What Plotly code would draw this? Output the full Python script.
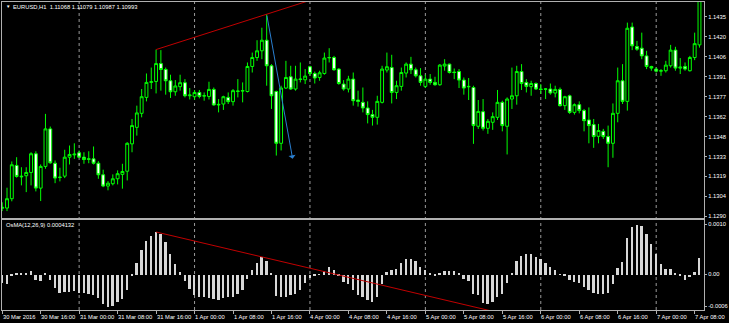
import plotly.graph_objects as go

# ---------------- data ----------------
bar_index = list(range(146))

opens = [1.12958, 1.12960, 1.13028, 1.13270, 1.13192, 1.13195, 1.13219, 1.13355, 1.13105, 1.13263,
         1.13536, 1.13286, 1.13185, 1.13192, 1.13330, 1.13347, 1.13362, 1.13330, 1.13318, 1.13318,
         1.13286, 1.13202, 1.13120, 1.13137, 1.13173, 1.13205, 1.13228, 1.13427, 1.13547, 1.13649,
         1.13765, 1.13874, 1.13881, 1.14011, 1.13968, 1.13886, 1.13806, 1.13843, 1.13872, 1.13777,
         1.13770, 1.13801, 1.13775, 1.13772, 1.13823, 1.13710, 1.13717, 1.13765, 1.13734, 1.13808,
         1.13811, 1.13808, 1.13990, 1.14055, 1.14104, 1.14181, 1.13995, 1.13808, 1.13431, 1.13833,
         1.13915, 1.13826, 1.13895, 1.13893, 1.13988, 1.13939, 1.13910, 1.13939, 1.14053, 1.14055,
         1.13971, 1.13862, 1.13826, 1.13898, 1.13746, 1.13729, 1.13688, 1.13640, 1.13620, 1.13729,
         1.13964, 1.13982, 1.13801, 1.13845, 1.13942, 1.14007, 1.13966, 1.13922, 1.13845, 1.13898,
         1.13874, 1.13857, 1.13993, 1.14007, 1.13949, 1.13953, 1.13891, 1.13845, 1.13837, 1.13555,
         1.13661, 1.13540, 1.13584, 1.13620, 1.13729, 1.13555, 1.13753, 1.13777, 1.13953, 1.13874,
         1.13843, 1.13866, 1.13826, 1.13827, 1.13826, 1.13797, 1.13823, 1.13705, 1.13777, 1.13656,
         1.13712, 1.13669, 1.13601, 1.13567, 1.13482, 1.13518, 1.13480, 1.13431, 1.13649, 1.13886,
         1.13736, 1.14277, 1.14135, 1.14123, 1.14067, 1.13990, 1.13971, 1.13956, 1.13959, 1.13995,
         1.14109, 1.13978, 1.13990, 1.13959, 1.14055, 1.14147]

highs = [1.13002, 1.13108, 1.13299, 1.13330, 1.13257, 1.13257, 1.13366, 1.13373, 1.13277, 1.13645,
         1.13553, 1.13306, 1.13253, 1.13384, 1.13415, 1.13431, 1.13379, 1.13366, 1.13373, 1.13408,
         1.13301, 1.13239, 1.13156, 1.13205, 1.13234, 1.13282, 1.13439, 1.13608, 1.13705, 1.13826,
         1.13939, 1.13982, 1.14113, 1.14109, 1.13982, 1.13930, 1.13891, 1.13930, 1.13898, 1.13833,
         1.13819, 1.13819, 1.13801, 1.13879, 1.13837, 1.13753, 1.13777, 1.13801, 1.13826, 1.13898,
         1.13874, 1.14019, 1.14091, 1.14181, 1.14272, 1.14370, 1.14007, 1.13814, 1.13850, 1.14031,
         1.13995, 1.13995, 1.14019, 1.13971, 1.13995, 1.13953, 1.13959, 1.14091, 1.14123, 1.14067,
         1.13978, 1.13891, 1.13922, 1.13946, 1.13814, 1.13837, 1.13736, 1.13674, 1.13777, 1.13995,
         1.14091, 1.14075, 1.13886, 1.13982, 1.14019, 1.14060, 1.13982, 1.13978, 1.13930, 1.13935,
         1.13915, 1.14007, 1.14043, 1.14011, 1.13975, 1.13971, 1.13910, 1.13906, 1.13850, 1.13746,
         1.13753, 1.13608, 1.13656, 1.13819, 1.13741, 1.13765, 1.13982, 1.13995, 1.14007, 1.13898,
         1.13886, 1.13874, 1.13862, 1.13833, 1.13866, 1.13850, 1.13837, 1.13777, 1.13785, 1.13721,
         1.13736, 1.13681, 1.13692, 1.13608, 1.13572, 1.13536, 1.13560, 1.13721, 1.13982, 1.14007,
         1.14309, 1.14309, 1.14176, 1.14236, 1.14104, 1.13995, 1.13982, 1.13971, 1.14031, 1.14147,
         1.14133, 1.14051, 1.14019, 1.14067, 1.14236, 1.14575]

lows = [1.12938, 1.12938, 1.13009, 1.13181, 1.13125, 1.13076, 1.13125, 1.13081, 1.13011, 1.13246,
        1.13282, 1.13141, 1.13154, 1.13178, 1.13277, 1.13318, 1.13326, 1.13282, 1.13286, 1.13277,
        1.13173, 1.13112, 1.13089, 1.13125, 1.13132, 1.13101, 1.13161, 1.13366, 1.13487, 1.13620,
        1.13736, 1.13826, 1.13794, 1.13814, 1.13785, 1.13761, 1.13777, 1.13814, 1.13765, 1.13750,
        1.13746, 1.13758, 1.13741, 1.13750, 1.13705, 1.13656, 1.13674, 1.13717, 1.13705, 1.13765,
        1.13729, 1.13801, 1.13946, 1.14031, 1.14043, 1.13850, 1.13681, 1.13342, 1.13379, 1.13826,
        1.13819, 1.13814, 1.13874, 1.13862, 1.13922, 1.13866, 1.13886, 1.13930, 1.14019, 1.13959,
        1.13857, 1.13814, 1.13801, 1.13705, 1.13698, 1.13656, 1.13576, 1.13560, 1.13567, 1.13721,
        1.13946, 1.13721, 1.13753, 1.13814, 1.13910, 1.13935, 1.13910, 1.13850, 1.13833, 1.13857,
        1.13850, 1.13850, 1.13959, 1.13939, 1.13898, 1.13833, 1.13785, 1.13746, 1.13427, 1.13536,
        1.13524, 1.13500, 1.13529, 1.13601, 1.13518, 1.13350, 1.13681, 1.13712, 1.13819, 1.13801,
        1.13777, 1.13819, 1.13790, 1.13753, 1.13785, 1.13765, 1.13698, 1.13674, 1.13645, 1.13640,
        1.13649, 1.13518, 1.13431, 1.13398, 1.13431, 1.13463, 1.13257, 1.13326, 1.13584, 1.13717,
        1.13669, 1.14109, 1.14104, 1.14043, 1.13971, 1.13959, 1.13946, 1.13922, 1.13946, 1.13982,
        1.13959, 1.13935, 1.13959, 1.13953, 1.14036, 1.14127]

closes = [1.12965, 1.13028, 1.13275, 1.13190, 1.13188, 1.13219, 1.13355, 1.13105, 1.13263, 1.13536,
          1.13289, 1.13178, 1.13183, 1.13330, 1.13350, 1.13352, 1.13330, 1.13313, 1.13315, 1.13286,
          1.13202, 1.13120, 1.13141, 1.13173, 1.13210, 1.13226, 1.13431, 1.13560, 1.13652, 1.13770,
          1.13874, 1.13879, 1.14011, 1.13968, 1.13886, 1.13806, 1.13848, 1.13872, 1.13777, 1.13782,
          1.13801, 1.13772, 1.13777, 1.13823, 1.13710, 1.13714, 1.13770, 1.13734, 1.13814, 1.13811,
          1.13814, 1.13990, 1.14055, 1.14104, 1.14181, 1.13995, 1.13777, 1.13431, 1.13833, 1.13910,
          1.13826, 1.13898, 1.13898, 1.13920, 1.13939, 1.13906, 1.13944, 1.14051, 1.14055, 1.13966,
          1.13866, 1.13826, 1.13898, 1.13741, 1.13736, 1.13688, 1.13640, 1.13620, 1.13736, 1.13971,
          1.13988, 1.13801, 1.13850, 1.13946, 1.14007, 1.13966, 1.13922, 1.13874, 1.13898, 1.13874,
          1.13857, 1.14000, 1.14007, 1.13946, 1.13946, 1.13891, 1.13833, 1.13843, 1.13560, 1.13663,
          1.13540, 1.13591, 1.13625, 1.13729, 1.13560, 1.13753, 1.13777, 1.13953, 1.13866, 1.13845,
          1.13866, 1.13826, 1.13823, 1.13825, 1.13797, 1.13823, 1.13705, 1.13770, 1.13656, 1.13712,
          1.13669, 1.13596, 1.13560, 1.13480, 1.13524, 1.13480, 1.13431, 1.13649, 1.13886, 1.13736,
          1.14268, 1.14140, 1.14116, 1.14067, 1.13990, 1.13978, 1.13956, 1.13959, 1.14000, 1.14109,
          1.13978, 1.13985, 1.13971, 1.14055, 1.14156, 1.14502]

osma = [-0.000163, -0.000176, -0.000013, 0.000013, 0.000020, 0.000020, 0.000078, -0.000098, -0.000131, 0.000033,
        -0.000098, -0.000255, -0.000359, -0.000340, -0.000340, -0.000327, -0.000359, -0.000359, -0.000373, -0.000405,
        -0.000471, -0.000588, -0.000634, -0.000614, -0.000549, -0.000490, -0.000294, -0.000026, 0.000235, 0.000477,
        0.000660, 0.000752, 0.000837, 0.000791, 0.000641, 0.000412, 0.000203, 0.000052, -0.000131, -0.000288,
        -0.000405, -0.000438, -0.000451, -0.000471, -0.000490, -0.000503, -0.000471, -0.000451, -0.000438, -0.000373,
        -0.000307, -0.000078, 0.000085, 0.000229, 0.000346, 0.000268, 0.000020, -0.000425, -0.000451, -0.000438,
        -0.000405, -0.000373, -0.000294, -0.000163, -0.000065, -0.000013, 0.000007, 0.000065, 0.000150, 0.000085,
        -0.000020, -0.000144, -0.000190, -0.000307, -0.000405, -0.000451, -0.000503, -0.000536, -0.000438, -0.000176,
        0.000046, 0.000085, 0.000118, 0.000229, 0.000314, 0.000314, 0.000268, 0.000150, 0.000085, 0.000039,
        -0.000020, 0.000033, 0.000072, 0.000072, 0.000072, 0.000020, -0.000078, -0.000124, -0.000373, -0.000405,
        -0.000556, -0.000582, -0.000536, -0.000438, -0.000373, -0.000163, 0.000033, 0.000261, 0.000359, 0.000399,
        0.000399, 0.000346, 0.000301, 0.000229, 0.000150, 0.000098, 0.000007, -0.000033, -0.000098, -0.000144,
        -0.000163, -0.000242, -0.000307, -0.000359, -0.000373, -0.000373, -0.000359, -0.000190, 0.000137, 0.000248,
        0.000719, 0.000935, 0.000980, 0.000948, 0.000791, 0.000608, 0.000412, 0.000216, 0.000105, 0.000105,
        0.000020, -0.000033, -0.000111, -0.000046, 0.000052, 0.000330]

price_tick_vals = [1.12900, 1.13045, 1.13190, 1.13335, 1.13480, 1.13625, 1.13770, 1.13915, 1.14060, 1.14205, 1.14350]
price_tick_text = ["1.1290", "1.1304", "1.1319", "1.1333", "1.1348", "1.1362", "1.1377", "1.1391", "1.1406", "1.1420", "1.1435"]

osma_tick_vals = [0.00099, 0.0, -0.00063]
osma_tick_text = ["0.0010", "0.00", "-0.0006"]

time_tick_index = [0, 8, 16, 24, 32, 40, 48, 56, 64, 72, 80, 88, 96, 104, 112, 120, 128, 136, 144]
time_tick_text = ["30 Mar 2016", "30 Mar 16:00", "31 Mar 00:00", "31 Mar 08:00", "31 Mar 16:00",
                  "1 Apr 00:00", "1 Apr 08:00", "1 Apr 16:00", "4 Apr 00:00", "4 Apr 08:00",
                  "4 Apr 16:00", "5 Apr 00:00", "5 Apr 08:00", "5 Apr 16:00", "6 Apr 00:00",
                  "6 Apr 08:00", "6 Apr 16:00", "7 Apr 00:00", "7 Apr 08:00"]

day_separator_index = [16, 40, 64, 88, 112, 136]

# drawn objects (trend lines) anchored on highs / histogram peaks
price_trend_x = [32, 65]
price_trend_y = [1.14113, 1.14482]
arrow_x = [55, 60.4]
arrow_y = [1.14370, 1.13318]
osma_trend_x = [32, 104]
osma_trend_y = [0.000837, -0.000770]

chart_title = "EURUSD,H1  1.11068 1.11079 1.10987 1.10993"
osma_title = "OsMA(12,26,9) 0.0004132"

# ---------------- styling ----------------
W, H = 729, 323
FONT = "Liberation Sans, Arial, sans-serif"
FS = 5.8
LIME = "#00ff00"
BORDER = "#b0b0b0"
TXT = "#ffffff"

fig = go.Figure()

fig.add_trace(go.Candlestick(
    x=bar_index, open=opens, high=highs, low=lows, close=closes,
    increasing=dict(line=dict(color=LIME, width=1), fillcolor="#000000"),
    decreasing=dict(line=dict(color=LIME, width=1), fillcolor="#ffffff"),
    whiskerwidth=0, xaxis="x", yaxis="y", showlegend=False, hoverinfo="skip",
))

fig.add_trace(go.Bar(
    x=bar_index, y=osma, width=0.38, marker=dict(color="#d8d8d8", line=dict(width=0)),
    xaxis="x2", yaxis="y2", showlegend=False, hoverinfo="skip",
))

fig.add_trace(go.Scatter(
    x=price_trend_x, y=price_trend_y, mode="lines",
    line=dict(color="#c00000", width=1), xaxis="x", yaxis="y",
    showlegend=False, hoverinfo="skip", cliponaxis=True,
))
fig.add_trace(go.Scatter(
    x=osma_trend_x, y=osma_trend_y, mode="lines",
    line=dict(color="#c00000", width=1), xaxis="x2", yaxis="y2",
    showlegend=False, hoverinfo="skip", cliponaxis=True,
))

annotations = []
# blue arrow
annotations.append(dict(
    x=arrow_x[1], y=arrow_y[1], ax=arrow_x[0], ay=arrow_y[0],
    xref="x", yref="y", axref="x", ayref="y",
    showarrow=True, arrowhead=1, arrowsize=1.2, arrowwidth=1, arrowcolor="#2a7fd0", text="",
))

top_px, bot_px = 1, 310
ph = bot_px - top_px

def py(px):
    return (bot_px - px) / ph

annotations.append(dict(x=0.0035, y=py(6), xref="paper", yref="paper", text="▼", showarrow=False,
                        xanchor="left", yanchor="middle", font=dict(family=FONT, size=4.5, color=TXT)))
annotations.append(dict(x=0.0125, y=py(6.2), xref="paper", yref="paper", text=chart_title, showarrow=False,
                        xanchor="left", yanchor="middle", font=dict(family=FONT, size=FS, color=TXT)))
annotations.append(dict(x=0.003, y=py(224.7), xref="paper", yref="paper", text=osma_title, showarrow=False,
                        xanchor="left", yanchor="middle", font=dict(family=FONT, size=FS, color=TXT)))
for idx, lab in zip(time_tick_index, time_tick_text):
    annotations.append(dict(x=idx, y=py(316.8), xref="x2", yref="paper", text=lab, showarrow=False,
                            xanchor="left", yanchor="middle", borderpad=0, xshift=-0.5,
                            font=dict(family=FONT, size=FS, color=TXT)))

shapes = []
for idx in day_separator_index:
    shapes.append(dict(type="line", xref="x", yref="paper", x0=idx, x1=idx, y0=0, y1=1,
                       line=dict(color="#9a9a9a", width=1, dash="dot"), layer="below"))

xr = [-0.04, 145.94]
fig.update_layout(
    width=W, height=H,
    margin=dict(l=1, r=20, t=top_px, b=H - bot_px),
    paper_bgcolor="#000000", plot_bgcolor="rgba(0,0,0,0)",
    showlegend=False,
    boxgap=0.2, boxgroupgap=0.25, bargap=0,
    font=dict(family=FONT, size=FS, color=TXT),
    xaxis=dict(domain=[0, 1], range=xr, anchor="y", showgrid=False, zeroline=False,
               showticklabels=False, ticks="", showline=True, linecolor=BORDER, linewidth=1,
               mirror=True, rangeslider=dict(visible=False), fixedrange=True),
    yaxis=dict(domain=[py(218), 1], range=[1.128855, 1.14459], anchor="x", side="right",
               showgrid=False, zeroline=False, showline=True, linecolor=BORDER, linewidth=1, mirror=True,
               tickvals=price_tick_vals, ticktext=price_tick_text, ticks="outside", ticklen=2,
               tickcolor=BORDER, tickfont=dict(family=FONT, size=FS, color=TXT), ticklabelstandoff=0),
    xaxis2=dict(domain=[0, 1], range=xr, anchor="y2", showgrid=False, zeroline=False,
                showticklabels=False, tickvals=time_tick_index, ticks="outside", ticklen=3,
                tickcolor=BORDER, showline=True, linecolor=BORDER, linewidth=1, mirror=True),
    yaxis2=dict(domain=[0, py(219.6)], range=[-0.00070, 0.001075], anchor="x2", side="right",
                showgrid=False, zeroline=False, showline=True, linecolor=BORDER, linewidth=1, mirror=True,
                tickvals=osma_tick_vals, ticktext=osma_tick_text, ticks="outside", ticklen=2,
                tickcolor=BORDER, tickfont=dict(family=FONT, size=FS, color=TXT), ticklabelstandoff=0),
    annotations=annotations,
    shapes=shapes,
)

fig.write_html("out.html")
